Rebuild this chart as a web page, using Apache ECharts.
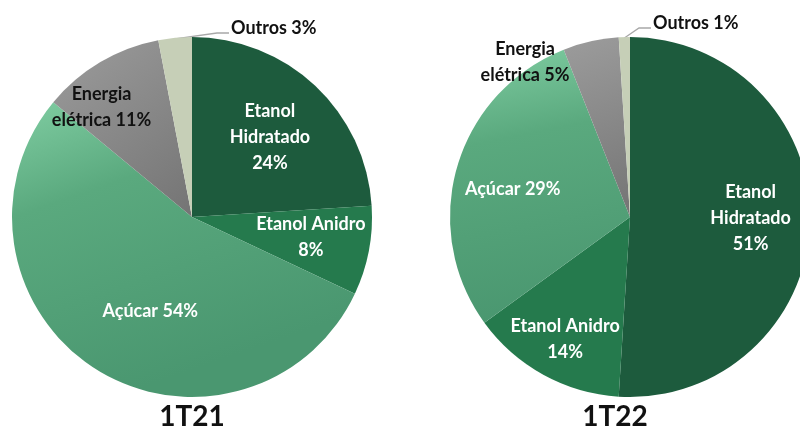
<!DOCTYPE html>
<html><head><meta charset="utf-8">
<script src="https://cdn.jsdelivr.net/npm/echarts@6/dist/echarts.min.js"></script>
<style>html,body{margin:0;padding:0;background:#fff}#c{width:800px;height:433px}</style>
</head><body><div id="c"></div>
<script>
// ---- data ----
const categories = ['Etanol Hidratado', 'Etanol Anidro', 'Açúcar', 'Energia elétrica', 'Outros'];
const labelTexts = ['Etanol\nHidratado', 'Etanol Anidro', 'Açúcar', 'Energia\nelétrica', 'Outros'];
const values1T21 = [24, 8, 54, 11, 3];
const values1T22 = [51, 14, 29, 5, 1];
const periods = ['1T21', '1T22'];

// ---- style / layout ----
const FONT = 'Lato, "Open Sans", sans-serif';
const CX = [192, 630], CY = 217, R = 180;
const TITLE_X = [192, 615];
function colorFor(i) {
  const LG = echarts.graphic.LinearGradient;
  return [
    '#1d5b3d',
    '#257a4d',
    new LG(0, 0, 0.3, 1, [{offset: 0, color: '#80cda2'}, {offset: 0.35, color: '#5aa97e'}, {offset: 1, color: '#4a9770'}]),
    new LG(0, 0, 1, 1, [{offset: 0, color: '#9c9c9c'}, {offset: 1, color: '#747474'}]),
    '#c6cfb7'
  ][i];
}
// label anchor: [radius fraction, angle deg clockwise from top] (null -> outside label with leader line)
const anchors = [
  [[0.62, 44.3], [0.67, 99.6], [0.57, 204], [0.79, 320.5], null],
  [[0.67, 90.5], [0.77, 207.9], [0.67, 283.5], [1.04, 325.9], null]
];
const outrosLbl = [[231, 28, 229, 33], [653, 23, 651, 28]];

function labelText(i, v) {
  if (i === 0 || i === 1 || i === 3) return labelTexts[i] + (i === 3 ? ' ' : '\n') + v + '%';
  return labelTexts[i] + ' ' + v + '%';
}

function makeSeries(p, values) {
  const total = values.reduce((a, b) => a + b, 0);
  const mids = []; let acc = 0;
  values.forEach(v => { mids.push((acc + v / 2) / total * 360); acc += v; });
  const data = values.map((v, i) => {
    const dark = i >= 3;
    return {
      name: categories[i], value: v,
      itemStyle: {color: colorFor(i)},
      label: {formatter: labelText(i, v), color: dark ? '#111' : '#fff'},
      labelLine: {show: i === 4, lineStyle: {color: '#a8a8a8', width: 1.3}}
    };
  });
  return {
    type: 'pie', center: [CX[p], CY], radius: R, startAngle: 90, clockwise: true,
    animation: false, silent: true,
    label: {show: true, position: 'outside', overflow: 'none', fontFamily: FONT, fontWeight: 'bold', fontSize: 18, lineHeight: 26, align: 'center'},
    labelLine: {show: false},
    data: data,
    labelLayout: function (params) {
      const i = params.dataIndex;
      const a = anchors[p][i];
      if (a) {
        const ang = a[1] * Math.PI / 180;
        return {x: CX[p] + a[0] * R * Math.sin(ang), y: CY - a[0] * R * Math.cos(ang), align: 'center', verticalAlign: 'middle'};
      }
      const ang = mids[i] * Math.PI / 180;
      const ex = CX[p] + R * Math.sin(ang), ey = CY - R * Math.cos(ang);
      const o = outrosLbl[p];
      return {x: o[0], y: o[1], align: 'left', verticalAlign: 'middle',
        labelLinePoints: [[ex, ey + 1], [o[2] - 12, o[3]], [o[2], o[3]]]};
    }
  };
}

const chart = echarts.init(document.getElementById('c'), null, {renderer: 'canvas'});
chart.setOption({
  backgroundColor: '#fff',
  title: periods.map((t, p) => ({
    text: t, left: TITLE_X[p], top: 403, textAlign: 'center', padding: 0,
    textStyle: {fontFamily: FONT, fontWeight: 'bold', fontSize: 28, color: '#111'}
  })),
  series: [makeSeries(0, values1T21), makeSeries(1, values1T22)]
});
</script></body></html>
